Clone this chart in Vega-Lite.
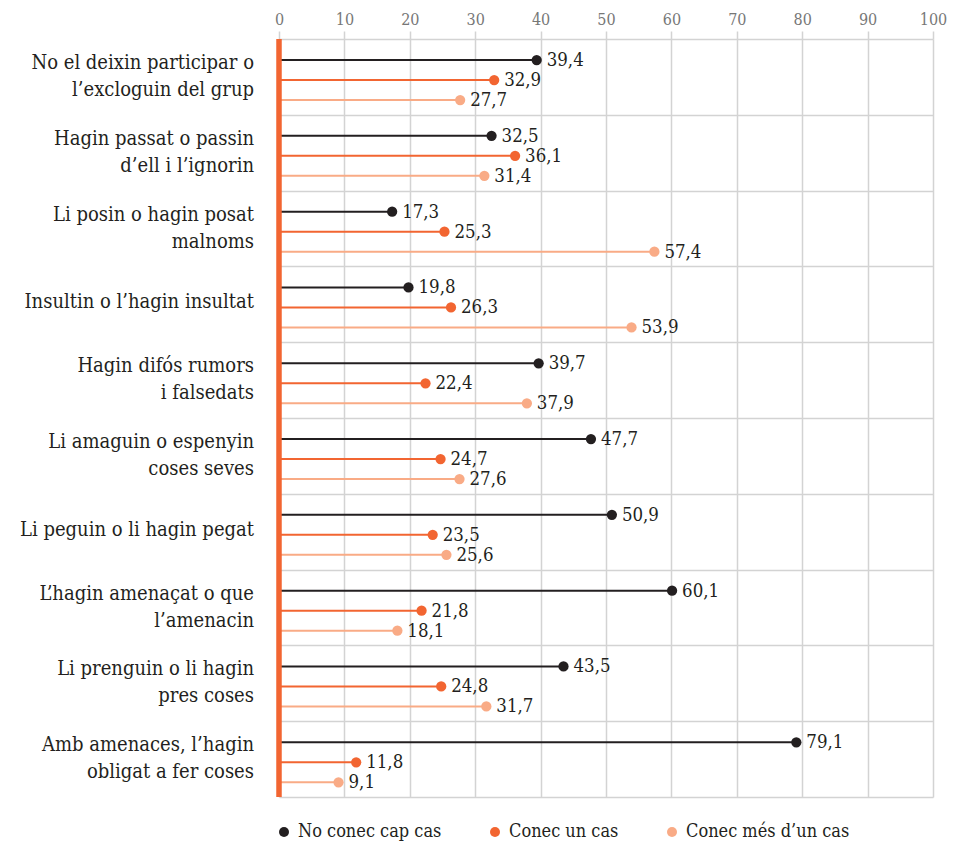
{
  "$schema": "https://vega.github.io/schema/vega-lite/v6.json",
  "width": 654,
  "height": 758,
  "autosize": {"type": "none"},
  "padding": {"left": 279, "top": 39, "right": 22, "bottom": 50},
  "config": {
    "view": {"stroke": null},
    "font": "DejaVu Serif Condensed",
    "locale": {"number": {"decimal": ",", "thousands": ".", "grouping": [3], "currency": ["", " €"]}}
  },
  "data": {
    "values": [
      {"cat": "No el deixin participar o|l’excloguin del grup", "serie": "No conec cap cas", "value": 39.4},
      {"cat": "No el deixin participar o|l’excloguin del grup", "serie": "Conec un cas", "value": 32.9},
      {"cat": "No el deixin participar o|l’excloguin del grup", "serie": "Conec més d’un cas", "value": 27.7},
      {"cat": "Hagin passat o passin|d’ell i l’ignorin", "serie": "No conec cap cas", "value": 32.5},
      {"cat": "Hagin passat o passin|d’ell i l’ignorin", "serie": "Conec un cas", "value": 36.1},
      {"cat": "Hagin passat o passin|d’ell i l’ignorin", "serie": "Conec més d’un cas", "value": 31.4},
      {"cat": "Li posin o hagin posat|malnoms", "serie": "No conec cap cas", "value": 17.3},
      {"cat": "Li posin o hagin posat|malnoms", "serie": "Conec un cas", "value": 25.3},
      {"cat": "Li posin o hagin posat|malnoms", "serie": "Conec més d’un cas", "value": 57.4},
      {"cat": "Insultin o l’hagin insultat", "serie": "No conec cap cas", "value": 19.8},
      {"cat": "Insultin o l’hagin insultat", "serie": "Conec un cas", "value": 26.3},
      {"cat": "Insultin o l’hagin insultat", "serie": "Conec més d’un cas", "value": 53.9},
      {"cat": "Hagin difós rumors|i falsedats", "serie": "No conec cap cas", "value": 39.7},
      {"cat": "Hagin difós rumors|i falsedats", "serie": "Conec un cas", "value": 22.4},
      {"cat": "Hagin difós rumors|i falsedats", "serie": "Conec més d’un cas", "value": 37.9},
      {"cat": "Li amaguin o espenyin|coses seves", "serie": "No conec cap cas", "value": 47.7},
      {"cat": "Li amaguin o espenyin|coses seves", "serie": "Conec un cas", "value": 24.7},
      {"cat": "Li amaguin o espenyin|coses seves", "serie": "Conec més d’un cas", "value": 27.6},
      {"cat": "Li peguin o li hagin pegat", "serie": "No conec cap cas", "value": 50.9},
      {"cat": "Li peguin o li hagin pegat", "serie": "Conec un cas", "value": 23.5},
      {"cat": "Li peguin o li hagin pegat", "serie": "Conec més d’un cas", "value": 25.6},
      {"cat": "L’hagin amenaçat o que|l’amenacin", "serie": "No conec cap cas", "value": 60.1},
      {"cat": "L’hagin amenaçat o que|l’amenacin", "serie": "Conec un cas", "value": 21.8},
      {"cat": "L’hagin amenaçat o que|l’amenacin", "serie": "Conec més d’un cas", "value": 18.1},
      {"cat": "Li prenguin o li hagin|pres coses", "serie": "No conec cap cas", "value": 43.5},
      {"cat": "Li prenguin o li hagin|pres coses", "serie": "Conec un cas", "value": 24.8},
      {"cat": "Li prenguin o li hagin|pres coses", "serie": "Conec més d’un cas", "value": 31.7},
      {"cat": "Amb amenaces, l’hagin|obligat a fer coses", "serie": "No conec cap cas", "value": 79.1},
      {"cat": "Amb amenaces, l’hagin|obligat a fer coses", "serie": "Conec un cas", "value": 11.8},
      {"cat": "Amb amenaces, l’hagin|obligat a fer coses", "serie": "Conec més d’un cas", "value": 9.1}
    ]
  },
  "encoding": {
    "y": {
      "field": "cat",
      "type": "nominal",
      "sort": null,
      "scale": {"paddingInner": 0, "paddingOuter": 0},
      "axis": {
        "title": null,
        "tickBand": "extent",
        "grid": true,
        "gridColor": "#d3d3d3",
        "gridWidth": 1.5,
        "ticks": false,
        "domain": false,
        "labels": false
      }
    },
    "yOffset": {
      "field": "serie",
      "type": "nominal",
      "scale": {"domain": ["No conec cap cas", "Conec un cas", "Conec més d’un cas"], "paddingInner": 0, "paddingOuter": 0.395, "align": 0.7}
    },
    "color": {
      "field": "serie",
      "type": "nominal",
      "scale": {"domain": ["No conec cap cas", "Conec un cas", "Conec més d’un cas"], "range": ["#231f20", "#f26531", "#f9ab86"]},
      "legend": {
        "title": null,
        "orient": "none",
        "direction": "horizontal",
        "legendX": -4,
        "legendY": 784,
        "symbolType": "circle",
        "symbolSize": 100,
        "symbolStrokeWidth": 0,
        "labelFontSize": 18,
        "labelColor": "#231f20",
        "labelLimit": 400,
        "columnPadding": 44,
        "labelOffset": 5
      }
    }
  },
  "layer": [
    {
      "mark": {"type": "rule", "strokeWidth": 2},
      "encoding": {
        "x": {
          "field": "value",
          "type": "quantitative",
          "scale": {"domain": [0, 100], "nice": false},
          "axis": {
            "orient": "top",
            "title": null,
            "values": [0, 10, 20, 30, 40, 50, 60, 70, 80, 90, 100],
            "grid": true,
            "gridColor": "#d3d3d3",
            "gridWidth": 1.5,
            "tickColor": "#d3d3d3",
            "tickWidth": 1.5,
            "tickSize": 8,
            "domain": false,
            "labelFontSize": 16,
            "labelColor": "#777777",
            "labelPadding": 4,
            "labelFlush": false
          }
        },
        "x2": {"datum": 0}
      }
    },
    {
      "mark": {"type": "point", "filled": true, "size": 105, "opacity": 1, "shape": "circle"},
      "encoding": {"x": {"field": "value", "type": "quantitative"}}
    },
    {
      "mark": {"type": "text", "align": "left", "baseline": "middle", "dx": 10, "fontSize": 18.5, "color": "#231f20"},
      "encoding": {
        "x": {"field": "value", "type": "quantitative"},
        "text": {"field": "value", "type": "quantitative", "format": ".1f"},
        "color": {"value": "#231f20"}
      }
    },
    {
      "transform": [{"filter": "datum.serie == 'No conec cap cas'"}],
      "mark": {
        "type": "text",
        "align": "right",
        "baseline": "middle",
        "lineBreak": "|",
        "lineHeight": 27,
        "fontSize": 20,
        "color": "#231f20",
        "dx": -25,
        "dy": {"expr": "indexof(datum.cat, '|') >= 0 ? -14 : -2"}
      },
      "encoding": {
        "x": {"datum": 0},
        "text": {"field": "cat", "type": "nominal"},
        "yOffset": null,
        "color": {"value": "#231f20"}
      }
    },
    {
      "data": {"values": [{"z": 0}]},
      "mark": {"type": "rule", "strokeWidth": 5.5, "color": "#f26531"},
      "encoding": {"x": {"field": "z", "type": "quantitative"}, "y": null, "yOffset": null, "color": {"value": "#f26531"}}
    }
  ]
}
